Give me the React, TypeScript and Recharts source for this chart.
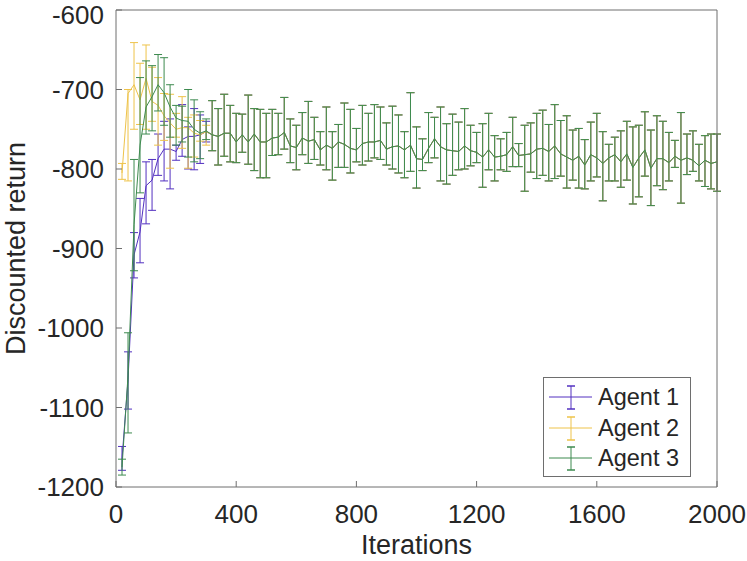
import { ComposedChart, Line, ErrorBar, XAxis, YAxis, Legend } from "recharts"

// sample points (every 20 iterations)
const iterations = [
  20, 40, 60, 80, 100, 120, 140, 160, 180, 200, 220, 240, 260, 280, 300,
  320, 340, 360, 380, 400, 420, 440, 460, 480, 500, 520, 540, 560, 580, 600,
  620, 640, 660, 680, 700, 720, 740, 760, 780, 800, 820, 840, 860, 880, 900,
  920, 940, 960, 980, 1000, 1020, 1040, 1060, 1080, 1100, 1120, 1140, 1160, 1180, 1200,
  1220, 1240, 1260, 1280, 1300, 1320, 1340, 1360, 1380, 1400, 1420, 1440, 1460, 1480, 1500,
  1520, 1540, 1560, 1580, 1600, 1620, 1640, 1660, 1680, 1700, 1720, 1740, 1760, 1780, 1800,
  1820, 1840, 1860, 1880, 1900, 1920, 1940, 1960, 1980, 2000,
]

// first 15 points (20..300) differ per agent
const agent1EarlyMean = [-1165, -1065, -908, -879, -821, -814, -787, -775, -775, -778, -763, -759, -759, -757, -753]
const agent1EarlyTop = [-1149, -1030, -880, -837, -791, -788, -756, -740, -737, -770, -719, -747, -724, -732, -740]
const agent1EarlyBottom = [-1179, -1102, -937, -918, -869, -852, -808, -815, -825, -789, -784, -800, -801, -793, -766]

const agent2EarlyMean = [-805, -705, -694, -713, -686, -715, -720, -733, -742, -750, -748, -748, -755, -757, -753]
const agent2EarlyTop = [-793, -700, -641, -667, -644, -672, -685, -705, -706, -730, -709, -735, -732, -739, -745]
const agent2EarlyBottom = [-813, -815, -750, -744, -750, -740, -770, -764, -799, -760, -774, -799, -785, -765, -770]

const agent3EarlyMean = [-1175, -1060, -870, -770, -722, -709, -694, -704, -722, -736, -739, -740, -750, -755, -752]
const agent3EarlyTop = [-1165, -1006, -788, -685, -664, -670, -656, -660, -694, -720, -721, -700, -713, -728, -737]
const agent3EarlyBottom = [-1185, -1132, -928, -830, -756, -752, -727, -745, -760, -770, -766, -785, -791, -787, -763]

// from 320 on the three agents sit on top of each other
const tailMean = [
  -757, -759, -755, -755, -766, -757, -766, -756, -766, -766, -761, -760, -754, -771, -773,
  -761, -765, -763, -776, -770, -774, -766, -769, -774, -776,
  -768, -766, -766, -764, -775, -772, -771, -776, -770, -787,
  -788, -774, -762, -772, -776, -777, -778, -771, -777, -779,
  -785, -776, -785, -784, -782, -772, -783, -782, -781, -775,
  -774, -778, -771, -781, -785, -789, -784, -795, -782, -786,
  -793, -786, -782, -791, -781, -798, -786, -776, -799, -787,
  -787, -792, -784, -789, -786, -789, -796, -789, -793, -791,
]
const tailTop = [
  -714, -724, -706, -720, -730, -731, -707, -724, -725, -730, -725, -730, -710, -737, -745,
  -729, -715, -735, -753, -722, -753, -744, -717, -725, -749,
  -720, -730, -719, -722, -742, -721, -732, -753, -704, -747,
  -762, -729, -735, -722, -743, -731, -741, -724, -745, -754,
  -743, -730, -758, -762, -754, -735, -768, -745, -742, -730,
  -726, -744, -719, -739, -733, -751, -749, -763, -741, -730,
  -753, -769, -760, -752, -740, -747, -745, -728, -751, -733,
  -740, -754, -764, -729, -756, -752, -769, -758, -756, -756,
]
const tailBottom = [
  -777, -795, -784, -791, -792, -779, -794, -802, -811, -811, -783, -782, -775, -792, -801,
  -782, -793, -788, -795, -801, -814, -798, -798, -805, -791,
  -795, -790, -786, -788, -795, -800, -805, -811, -803, -824,
  -802, -792, -786, -815, -819, -808, -801, -800, -796, -792,
  -823, -801, -815, -801, -803, -797, -797, -828, -804, -812,
  -808, -815, -812, -809, -824, -814, -824, -825, -815, -810,
  -840, -815, -815, -823, -814, -844, -835, -809, -846, -821,
  -826, -815, -798, -843, -807, -803, -815, -822, -825, -828,
]

const xTicks = [0, 400, 800, 1200, 1600, 2000]
const yTicks = [-1200, -1100, -1000, -900, -800, -700, -600]

const FONT = '"Liberation Sans", Arial, Helvetica, sans-serif'
const INK = "#262626"
const AXIS = "#6e6e6e"

const agents = [
  {
    key: "a1",
    name: "Agent 1",
    color: "#5230c0",
    mean: [...agent1EarlyMean, ...tailMean],
    top: [...agent1EarlyTop, ...tailTop],
    bottom: [...agent1EarlyBottom, ...tailBottom],
  },
  {
    key: "a2",
    name: "Agent 2",
    color: "#eec34a",
    mean: [...agent2EarlyMean, ...tailMean],
    top: [...agent2EarlyTop, ...tailTop],
    bottom: [...agent2EarlyBottom, ...tailBottom],
  },
  {
    key: "a3",
    name: "Agent 3",
    color: "#3d8a4f",
    mean: [...agent3EarlyMean, ...tailMean],
    top: [...agent3EarlyTop, ...tailTop],
    bottom: [...agent3EarlyBottom, ...tailBottom],
  },
]

const data = iterations.map((it, i) => {
  const row: Record<string, any> = { it }
  agents.forEach((a) => {
    row[a.key] = a.mean[i]
    row[a.key + "Err"] = [a.mean[i] - a.bottom[i], a.top[i] - a.mean[i]]
  })
  return row
})

function YLabel() {
  return (
    <text x={25} y={248.5} transform="rotate(-90 25 248.5)" textAnchor="middle"
      fontSize={27} fill={INK} fontFamily={FONT}>
      Discounted return
    </text>
  )
}

function XLabel() {
  return (
    <text x={416.5} y={554} textAnchor="middle" fontSize={27} fill={INK} fontFamily={FONT}>
      Iterations
    </text>
  )
}

function LegendBox({ payload }: any) {
  return (
    <div
      style={{
        width: 148,
        height: 100,
        boxSizing: "border-box",
        border: `1px solid ${AXIS}`,
        background: "#fff",
        position: "relative",
        fontFamily: FONT,
      }}
    >
      {(payload || []).map((p: any, i: number) => (
        <div
          key={p.value}
          style={{ position: "absolute", left: 0, top: 4 + i * 30.5, height: 30, display: "flex", alignItems: "center" }}
        >
          <svg width={52} height={30} style={{ display: "block" }}>
            <line x1={5} x2={48} y1={15} y2={15} stroke={p.color} strokeWidth={1} />
            <line x1={27} x2={27} y1={4} y2={27} stroke={p.color} strokeWidth={1} />
            <line x1={23} x2={31} y1={4} y2={4} stroke={p.color} strokeWidth={1.5} />
            <line x1={23} x2={31} y1={27} y2={27} stroke={p.color} strokeWidth={1.5} />
          </svg>
          <span style={{ fontSize: 23.5, color: INK, marginLeft: 2, lineHeight: "30px" }}>{p.value}</span>
        </div>
      ))}
    </div>
  )
}

export default function App() {
  const tickStyle = { fill: INK, fontSize: 26, fontFamily: FONT }
  return (
    <div style={{ position: "absolute", left: 0, top: 0 }}>
      <ComposedChart
        width={747}
        height={561}
        data={data}
        margin={{ top: 9, right: 29, bottom: 0, left: 0 }}
        style={{ fontFamily: FONT, background: "#fff" }}
      >
        <XAxis
          dataKey="it"
          type="number"
          domain={[0, 2000]}
          ticks={xTicks}
          height={74}
          tickSize={-6}
          tickMargin={24}
          tick={tickStyle}
          axisLine={{ stroke: AXIS }}
          tickLine={{ stroke: AXIS }}
          label={<XLabel />}
        />
        <XAxis
          xAxisId="top"
          orientation="top"
          type="number"
          domain={[0, 2000]}
          ticks={xTicks}
          height={1}
          tickSize={-6}
          tick={false}
          axisLine={{ stroke: AXIS }}
          tickLine={{ stroke: AXIS }}
        />
        <YAxis
          type="number"
          domain={[-1200, -600]}
          ticks={yTicks}
          width={116}
          tickSize={-6}
          tickMargin={18}
          tick={tickStyle}
          axisLine={{ stroke: AXIS }}
          tickLine={{ stroke: AXIS }}
          label={<YLabel />}
        />
        <YAxis
          yAxisId="right"
          orientation="right"
          type="number"
          domain={[-1200, -600]}
          ticks={yTicks}
          width={1}
          tickSize={-6}
          tick={false}
          axisLine={{ stroke: AXIS }}
          tickLine={{ stroke: AXIS }}
        />
        {agents.map((a) => (
          <Line
            key={a.key}
            type="linear"
            dataKey={a.key}
            name={a.name}
            stroke={a.color}
            strokeWidth={1}
            dot={false}
            activeDot={false}
            isAnimationActive={false}
          >
            <ErrorBar dataKey={a.key + "Err"} width={4} stroke={a.color} strokeWidth={1} isAnimationActive={false} />
          </Line>
        ))}
        <Legend
          content={<LegendBox />}
          layout="horizontal"
          verticalAlign="middle"
          align="center"
          wrapperStyle={{ left: 543, top: 377, width: 148, height: 100 }}
        />
      </ComposedChart>
    </div>
  )
}
